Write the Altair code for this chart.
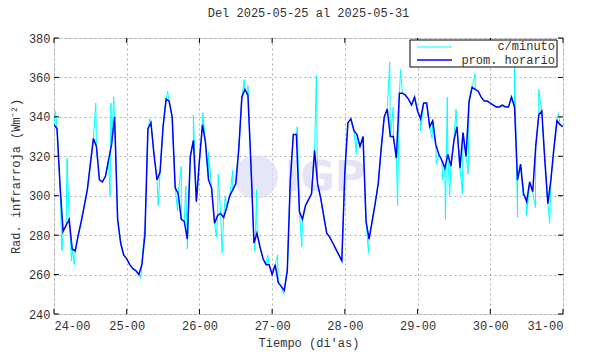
import altair as alt
import pandas as pd

title_text = "Del 2025-05-25 al 2025-05-31"
x_title = "Tiempo (di'as)"
y_title = "Rad. infrarroja (Wm⁻²)"
day_labels = ["24-00", "25-00", "26-00", "27-00", "28-00", "29-00", "30-00", "31-00"]
day_ticks = [0, 24, 48, 72, 96, 120, 144, 168]
y_ticks = [240, 260, 280, 300, 320, 340, 360, 380]
legend_labels = ["c/minuto", "prom. horario"]
watermark_text = ["IGP"]

# hourly means (prom. horario), one value per hour
d24 = [336, 334, 305, 282, 285, 288, 273, 272, 280, 287, 295, 303, 316, 329, 325, 308, 307, 310, 318, 326, 340, 288, 276, 270]
d25 = [268, 265, 263, 262, 260, 265, 280, 334, 337, 321, 308, 312, 335, 349, 348, 340, 304, 301, 288, 287, 278, 320, 328, 297]
d26 = [318, 336, 327, 308, 304, 286, 290, 291, 289, 294, 300, 303, 306, 324, 350, 354, 351, 316, 276, 281, 274, 268, 265, 265]
d27 = [260, 265, 256, 254, 252, 262, 308, 331, 331, 292, 288, 295, 298, 301, 323, 306, 299, 290, 281, 279, 276, 273, 270, 267]
d28 = [312, 337, 339, 333, 331, 325, 330, 287, 278, 287, 296, 306, 324, 340, 344, 330, 330, 319, 352, 352, 351, 349, 346, 350]
d29 = [343, 339, 347, 347, 335, 338, 326, 321, 318, 314, 321, 315, 328, 335, 314, 332, 320, 348, 355, 354, 353, 350, 348, 348]
d30 = [347, 346, 345, 345, 346, 345, 345, 350, 345, 308, 316, 301, 297, 307, 302, 325, 341, 343, 318, 296, 308, 324, 338, 336]
d_end = [335]

# minute data excursions visible around the hourly curve (c/minuto)
spike_hours = [0.5, 2.6, 4.3, 5.8, 6.7, 13.8, 18.5, 18.8, 19.7, 28.6, 29.8, 31.7, 34.4, 37.5, 40.8, 42.0,
               43.5, 44.0, 46.0, 49.1, 51.0, 53.6, 54.2, 55.5, 56.5, 59.0, 62.8, 64.0, 66.3, 66.9, 70.5,
               73.8, 75.8, 80.3, 81.8, 86.6, 87.8, 99.8, 103.8, 110.8, 112.0, 113.4, 114.4, 121.0, 124.8,
               126.2, 128.3, 129.2, 129.8, 130.6, 132.7, 134.8, 136.7, 139.0, 152.0, 153.0, 154.8, 156.0,
               158.9, 160.0, 163.6, 166.5]
spike_values = [343, 272, 319, 267, 265, 347, 300, 347, 350, 258, 282, 339, 295, 353, 292, 315,
                305, 273, 341, 342, 322, 279, 311, 271, 300, 313, 359, 356, 272, 303, 270,
                270, 250, 335, 274, 361, 300, 321, 271, 368, 345, 295, 364, 333, 329,
                316, 308, 288, 350, 300, 344, 301, 311, 362, 369, 289, 300, 290,
                294, 354, 286, 342]

hourly = d24 + d25 + d26 + d27 + d28 + d29 + d30 + d_end
hours = list(range(len(hourly)))
blue_df = pd.DataFrame({"t": hours, "v": hourly})
cyan_df = pd.concat([blue_df, pd.DataFrame({"t": spike_hours, "v": spike_values})]).sort_values("t")

FONT = "Liberation Mono"
W, H = 509, 276

xscale = alt.Scale(domain=[0, 168], nice=False, zero=False)
yscale = alt.Scale(domain=[240, 380], nice=False, zero=False)

label_expr = "[" + ",".join("'%s'" % s for s in day_labels) + "][round(datum.value/24)]"

x_axis = alt.Axis(values=day_ticks, labelExpr=label_expr, title=x_title, grid=True,
                  gridDash=[2, 3], gridColor="#9a9a9a", gridWidth=0.8, ticks=False, domain=False,
                  labelPadding=6, titlePadding=6, labelFont=FONT, titleFont=FONT,
                  labelFontSize=12, titleFontSize=12, labelColor="#333", titleColor="#333",
                  titleFontWeight="normal", labelOverlap=False, labelBound=False)
y_axis = alt.Axis(values=y_ticks, title=y_title, grid=True, gridDash=[2, 3], gridColor="#9a9a9a",
                  gridWidth=0.8, ticks=False, domain=False, labelPadding=4, titlePadding=6,
                  labelFont=FONT, titleFont=FONT, labelFontSize=12, titleFontSize=12,
                  labelColor="#333", titleColor="#333", titleFontWeight="normal",
                  labelOverlap=False, labelBound=False)

def X(field):
    return alt.X(field, scale=xscale, axis=x_axis, title=x_title)

def Y(field):
    return alt.Y(field, scale=yscale, axis=y_axis, title=y_title)

# faint logo watermark
wm_circle = alt.Chart(pd.DataFrame({"t": [66.7], "v": [309.5]})).mark_point(
    filled=True, color="#dcdcf6", opacity=0.7, size=1900, shape="circle").encode(
    x=X("t:Q"), y=Y("v:Q"))
wm_text = alt.Chart(pd.DataFrame({"t": [89.5], "v": [309], "s": watermark_text})).mark_text(
    font="DejaVu Sans", fontWeight="bold", fontSize=42, color="#e4e4f6", baseline="middle").encode(
    x=X("t:Q"), y=Y("v:Q"), text="s:N")

cyan = alt.Chart(cyan_df).mark_line(color="#00ffff", strokeWidth=1, clip=True).encode(
    x=X("t:Q"), y=Y("v:Q"), order="t:Q")
blue = alt.Chart(blue_df).mark_line(color="#0000ff", strokeWidth=1.5, clip=True).encode(
    x=X("t:Q"), y=Y("v:Q"))

# inward ticks on all four sides
xt = pd.DataFrame({"t": day_ticks})
yt = pd.DataFrame({"v": y_ticks})
tick_top = alt.Chart(xt).mark_rule(color="black").encode(x=X("t:Q"), y=alt.value(0), y2=alt.value(5))
tick_bot = alt.Chart(xt).mark_rule(color="black").encode(x=X("t:Q"), y=alt.value(H - 5), y2=alt.value(H))
tick_left = alt.Chart(yt).mark_rule(color="black").encode(y=Y("v:Q"), x=alt.value(0), x2=alt.value(5))
tick_right = alt.Chart(yt).mark_rule(color="black").encode(y=Y("v:Q"), x=alt.value(W - 5), x2=alt.value(W))

# legend box
leg_df = pd.DataFrame({"label": legend_labels})
leg_box = alt.Chart(pd.DataFrame({"a": [0]})).mark_rect(fill="white", stroke="black", strokeWidth=1).encode(
    x=alt.value(356), x2=alt.value(503), y=alt.value(2), y2=alt.value(29))
leg_line_c = alt.Chart(leg_df.iloc[[0]]).mark_rule(color="#00ffff", strokeWidth=1).encode(
    x=alt.value(363), x2=alt.value(398), y=alt.value(9))
leg_line_b = alt.Chart(leg_df.iloc[[1]]).mark_rule(color="#0000ff", strokeWidth=1.5).encode(
    x=alt.value(363), x2=alt.value(398), y=alt.value(22))
leg_text_c = alt.Chart(leg_df.iloc[[0]]).mark_text(align="right", baseline="middle", font=FONT,
                                                   fontSize=12, color="#333").encode(
    x=alt.value(501), y=alt.value(8), text="label:N")
leg_text_b = alt.Chart(leg_df.iloc[[1]]).mark_text(align="right", baseline="middle", font=FONT,
                                                   fontSize=12, color="#333").encode(
    x=alt.value(501), y=alt.value(22), text="label:N")

chart = alt.layer(
    wm_circle, wm_text, cyan, blue,
    tick_top, tick_bot, tick_left, tick_right,
    leg_box, leg_line_c, leg_line_b, leg_text_c, leg_text_b,
).properties(
    width=W, height=H,
    title=alt.TitleParams(title_text, font=FONT, fontSize=12, fontWeight="normal", color="#333", offset=12),
    padding={"left": 46, "top": 30, "right": 19, "bottom": 40},
    autosize=alt.AutoSizeParams(type="none"),
).configure_view(stroke="black", strokeWidth=1.2).configure(background="white")

chart.save("out.html", embed_options={"renderer": "svg", "actions": False})
